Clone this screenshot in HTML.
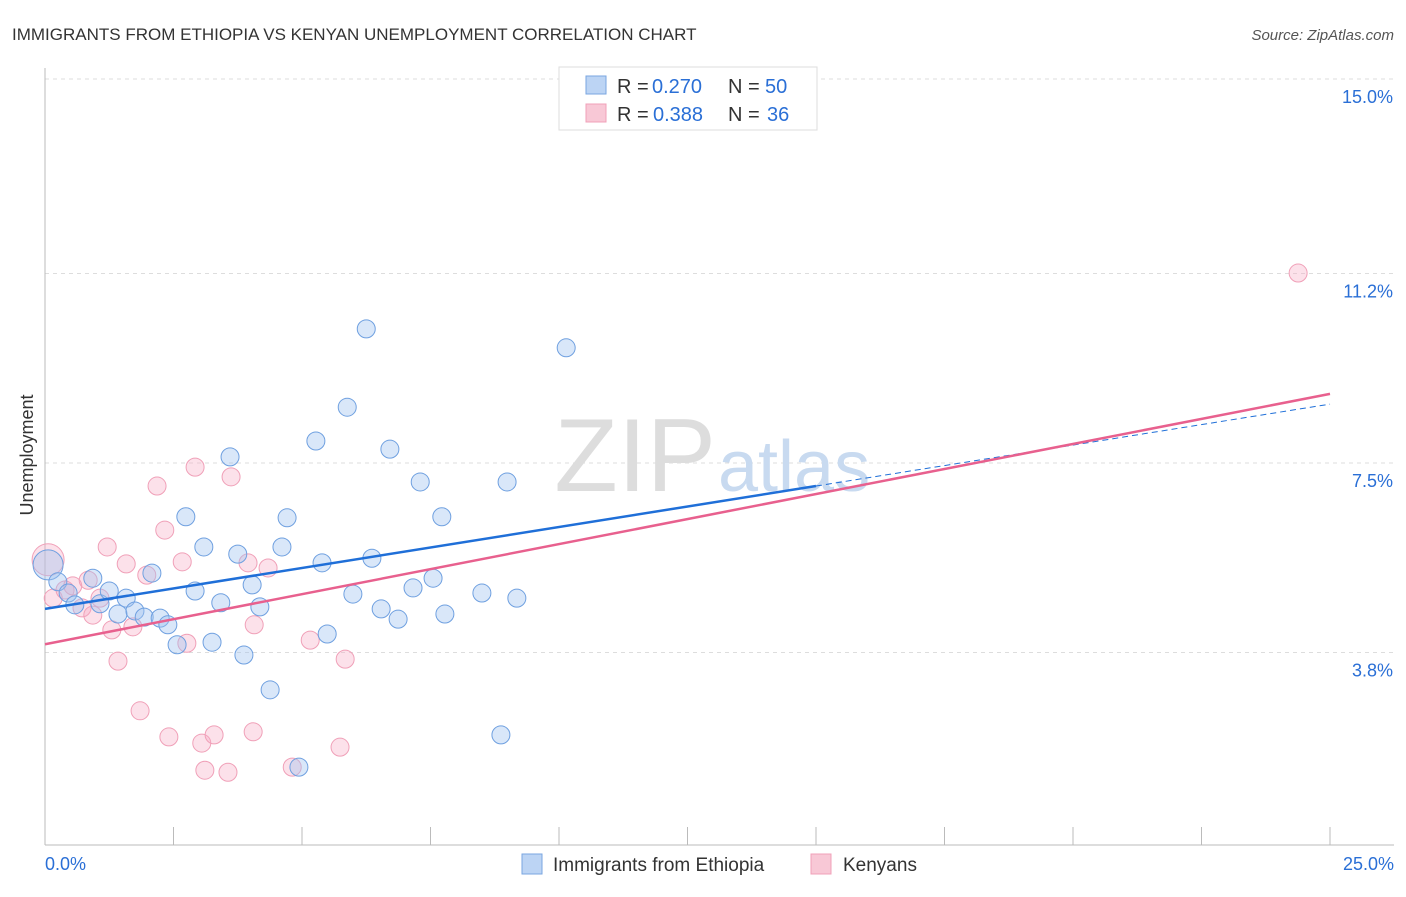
<!DOCTYPE html>
<html><head><meta charset="utf-8"><style>
body{margin:0;background:#fff;font-family:"Liberation Sans",sans-serif;}
svg text{font-family:"Liberation Sans",sans-serif;}
</style></head><body>
<svg id="c" width="1406" height="892" viewBox="0 0 1406 892" xmlns="http://www.w3.org/2000/svg">
<text x="12" y="40" font-size="17" fill="#333">IMMIGRANTS FROM ETHIOPIA VS KENYAN UNEMPLOYMENT CORRELATION CHART</text>
<text x="1394" y="40" font-size="15" fill="#555" font-style="italic" text-anchor="end">Source: ZipAtlas.com</text>
<g id="grid"></g>
<text x="716" y="491" font-size="104" fill="#ddd" text-anchor="end" font-family="Liberation Serif">ZIP</text>
<text x="718" y="491" font-size="72" fill="#c8daf0">atlas</text>
<text x="33" y="455" font-size="18" fill="#333" transform="rotate(-90 33 455)" text-anchor="middle">Unemployment</text>
<g id="pts"></g>
<g id="lines"></g>
<g>
<rect x="559" y="67" width="258" height="63" fill="#fff" stroke="#ddd"/>
<rect x="586" y="76" width="20" height="18" fill="#bcd4f4" stroke="#7aa6e0"/>
<rect x="586" y="104" width="20" height="18" fill="#f8c8d6" stroke="#f0a0b8"/>
<text y="93" font-size="20" fill="#333"><tspan x="617">R =</tspan><tspan x="652" fill="#2a6fd6">0.270</tspan><tspan x="728">N =</tspan><tspan x="765" fill="#2a6fd6">50</tspan></text>
<text y="121" font-size="20" fill="#333"><tspan x="617">R =</tspan><tspan x="653" fill="#2a6fd6">0.388</tspan><tspan x="728">N =</tspan><tspan x="767" fill="#2a6fd6">36</tspan></text>
</g>
<g>
<rect x="522" y="854" width="20" height="20" fill="#bcd4f4" stroke="#7aa6e0"/>
<text x="553" y="871" font-size="19" fill="#333">Immigrants from Ethiopia</text>
<rect x="811" y="854" width="20" height="20" fill="#f8c8d6" stroke="#f0a0b8"/>
<text x="843" y="871" font-size="19" fill="#333">Kenyans</text>
</g>
</svg>
<script>
const xTicks=[0,2.5,5,7.5,10,12.5,15,17.5,20,22.5,25];
const yTicks=[3.8,7.5,11.2,15.0];
const yTickLabels=["3.8%","7.5%","11.2%","15.0%"];
const ethX=[0.06,0.25,0.45,0.58,0.93,1.07,1.25,1.42,1.58,1.75,1.93,2.08,2.24,2.39,2.57,2.74,2.92,3.09,3.25,3.42,3.6,3.75,3.87,4.03,4.18,4.38,4.61,4.71,4.94,5.27,5.39,5.49,5.88,5.99,6.25,6.36,6.54,6.71,6.87,7.16,7.3,7.55,7.72,7.78,8.5,8.87,8.99,9.18,10.14];
const ethY=[5.51,5.18,4.96,4.73,5.25,4.75,5.0,4.55,4.86,4.61,4.49,5.35,4.47,4.34,3.95,6.45,5.0,5.86,4.0,4.77,7.62,5.72,3.75,5.12,4.69,3.07,5.86,6.43,1.56,7.93,5.55,4.16,8.59,4.94,10.12,5.64,4.65,7.77,4.45,5.06,7.13,5.25,6.45,4.55,4.96,2.19,7.13,4.86,9.75];
const kenX=[0.06,0.16,0.39,0.54,0.72,0.84,0.93,1.07,1.21,1.3,1.42,1.58,1.71,1.85,1.98,2.18,2.33,2.41,2.67,2.76,2.92,3.05,3.11,3.29,3.56,3.62,3.95,4.05,4.07,4.34,4.81,5.16,5.74,5.84,24.38];
const kenY=[5.61,4.86,5.02,5.1,4.67,5.21,4.53,4.86,5.86,4.24,3.63,5.53,4.3,2.66,5.31,7.05,6.19,2.15,5.57,3.98,7.42,2.03,1.5,2.19,1.46,7.23,5.55,2.25,4.34,5.45,1.56,4.04,1.95,3.67,11.21];
const ethTrend=[4.65,8.65];
const kenTrend=[3.96,8.85];
const ethSolidEnd=15;
const NS="http://www.w3.org/2000/svg";
const X=v=>45+v*51.4, Y=v=>79+(15-v)*51.2;
function mk(tag,attrs,parent){const e=document.createElementNS(NS,tag);for(const k in attrs)e.setAttribute(k,attrs[k]);parent.appendChild(e);return e;}
const grid=document.getElementById('grid');
yTicks.forEach((t,i)=>{
 const l=mk('line',{x1:45,x2:1394,y1:Y(t),y2:Y(t),stroke:'#ddd','stroke-dasharray':'4,4'},grid);
 
 
 const tx=mk('text',{x:1393,y:Y(t)+24,'font-size':18,fill:'#2a6fd6','text-anchor':'end'},grid);
 tx.textContent=yTickLabels[i];
 
 
});
const ax=mk('line',{x1:45,x2:1394,y1:845,y2:845,stroke:'#bbb'},grid);


const ay=mk('line',{x1:45,x2:45,y1:68,y2:845,stroke:'#bbb'},grid);


xTicks.forEach(t=>{
 const l=mk('line',{x1:X(t),x2:X(t),y1:827,y2:845,stroke:'#bbb'},grid);
 
 
});
const xl0=mk('text',{x:45,y:870,'font-size':18,fill:'#2a6fd6'},grid);xl0.textContent=xTicks[0].toFixed(1)+'%';


const xl1=mk('text',{x:1394,y:870,'font-size':18,fill:'#2a6fd6','text-anchor':'end'},grid);xl1.textContent=xTicks[xTicks.length-1].toFixed(1)+'%';


const pts=document.getElementById('pts');
kenX.forEach((v,i)=>{
 const c=mk('circle',{cx:X(v),cy:Y(kenY[i]),r:i==0?16:9,fill:'rgba(245,170,195,0.35)',stroke:'#f0a0b8','stroke-width':1},pts);
 
 
});
ethX.forEach((v,i)=>{
 const c=mk('circle',{cx:X(v),cy:Y(ethY[i]),r:i==0?15:9,fill:'rgba(160,196,240,0.4)',stroke:'#6fa0e0','stroke-width':1},pts);
 
 
});
const ln=document.getElementById('lines');
const ey=x=>ethTrend[0]+(ethTrend[1]-ethTrend[0])*x/25;
const l1=mk('line',{x1:X(0),y1:Y(ey(0)),x2:X(ethSolidEnd),y2:Y(ey(ethSolidEnd)),stroke:'#1f6fd8','stroke-width':2.5},ln);


const l2=mk('line',{x1:X(ethSolidEnd),y1:Y(ey(ethSolidEnd)),x2:X(25),y2:Y(ey(25)),stroke:'#1f6fd8','stroke-width':1,'stroke-dasharray':'6,4'},ln);


const l3=mk('line',{x1:X(0),y1:Y(kenTrend[0]),x2:X(25),y2:Y(kenTrend[1]),stroke:'#e8608e','stroke-width':2.5},ln);


</script>
</body></html>
